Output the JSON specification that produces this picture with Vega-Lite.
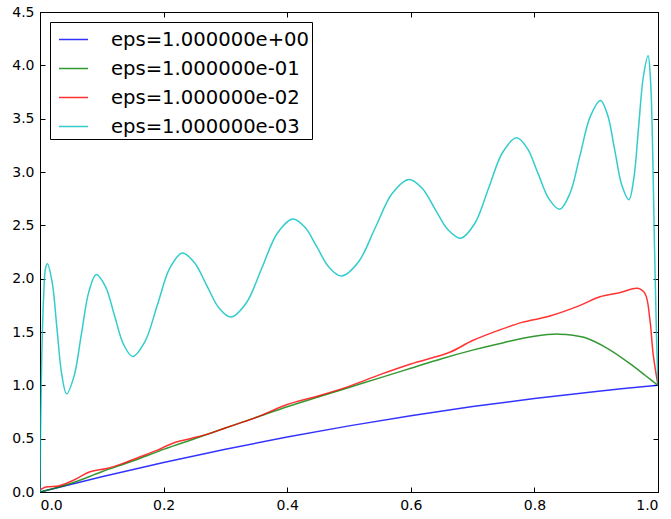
{
  "$schema": "https://vega.github.io/schema/vega-lite/v6.json",
  "width": 618,
  "height": 480,
  "autosize": {"type": "none"},
  "padding": {"left": 40, "top": 12, "right": 13, "bottom": 27},
  "background": "white",
  "datasets": {
    "curves": [
      {"x": 0, "y": 0, "s": "eps=1.000000e+00"},
      {"x": 0.1, "y": 0.143, "s": "eps=1.000000e+00"},
      {"x": 0.2, "y": 0.277, "s": "eps=1.000000e+00"},
      {"x": 0.3, "y": 0.401, "s": "eps=1.000000e+00"},
      {"x": 0.4, "y": 0.515, "s": "eps=1.000000e+00"},
      {"x": 0.5, "y": 0.62, "s": "eps=1.000000e+00"},
      {"x": 0.6, "y": 0.715, "s": "eps=1.000000e+00"},
      {"x": 0.7, "y": 0.801, "s": "eps=1.000000e+00"},
      {"x": 0.8, "y": 0.877, "s": "eps=1.000000e+00"},
      {"x": 0.9, "y": 0.943, "s": "eps=1.000000e+00"},
      {"x": 1.0, "y": 1.0, "s": "eps=1.000000e+00"},

      {"x": 0, "y": 0, "s": "eps=1.000000e-01"},
      {"x": 0.05, "y": 0.08, "s": "eps=1.000000e-01"},
      {"x": 0.1, "y": 0.19, "s": "eps=1.000000e-01"},
      {"x": 0.15, "y": 0.29, "s": "eps=1.000000e-01"},
      {"x": 0.2, "y": 0.40, "s": "eps=1.000000e-01"},
      {"x": 0.25, "y": 0.50, "s": "eps=1.000000e-01"},
      {"x": 0.3, "y": 0.60, "s": "eps=1.000000e-01"},
      {"x": 0.35, "y": 0.70, "s": "eps=1.000000e-01"},
      {"x": 0.4, "y": 0.80, "s": "eps=1.000000e-01"},
      {"x": 0.45, "y": 0.89, "s": "eps=1.000000e-01"},
      {"x": 0.5, "y": 0.98, "s": "eps=1.000000e-01"},
      {"x": 0.55, "y": 1.07, "s": "eps=1.000000e-01"},
      {"x": 0.6, "y": 1.16, "s": "eps=1.000000e-01"},
      {"x": 0.65, "y": 1.25, "s": "eps=1.000000e-01"},
      {"x": 0.7, "y": 1.33, "s": "eps=1.000000e-01"},
      {"x": 0.75, "y": 1.40, "s": "eps=1.000000e-01"},
      {"x": 0.8, "y": 1.46, "s": "eps=1.000000e-01"},
      {"x": 0.84, "y": 1.48, "s": "eps=1.000000e-01"},
      {"x": 0.88, "y": 1.45, "s": "eps=1.000000e-01"},
      {"x": 0.92, "y": 1.34, "s": "eps=1.000000e-01"},
      {"x": 0.96, "y": 1.18, "s": "eps=1.000000e-01"},
      {"x": 0.98, "y": 1.09, "s": "eps=1.000000e-01"},
      {"x": 1.0, "y": 1.0, "s": "eps=1.000000e-01"},

      {"x": 0, "y": 0.02, "s": "eps=1.000000e-02"},
      {"x": 0.008, "y": 0.045, "s": "eps=1.000000e-02"},
      {"x": 0.016, "y": 0.05, "s": "eps=1.000000e-02"},
      {"x": 0.03, "y": 0.056, "s": "eps=1.000000e-02"},
      {"x": 0.054, "y": 0.11, "s": "eps=1.000000e-02"},
      {"x": 0.081, "y": 0.19, "s": "eps=1.000000e-02"},
      {"x": 0.108, "y": 0.22, "s": "eps=1.000000e-02"},
      {"x": 0.135, "y": 0.27, "s": "eps=1.000000e-02"},
      {"x": 0.162, "y": 0.33, "s": "eps=1.000000e-02"},
      {"x": 0.189, "y": 0.39, "s": "eps=1.000000e-02"},
      {"x": 0.216, "y": 0.46, "s": "eps=1.000000e-02"},
      {"x": 0.243, "y": 0.50, "s": "eps=1.000000e-02"},
      {"x": 0.27, "y": 0.54, "s": "eps=1.000000e-02"},
      {"x": 0.3, "y": 0.60, "s": "eps=1.000000e-02"},
      {"x": 0.35, "y": 0.70, "s": "eps=1.000000e-02"},
      {"x": 0.4, "y": 0.82, "s": "eps=1.000000e-02"},
      {"x": 0.45, "y": 0.90, "s": "eps=1.000000e-02"},
      {"x": 0.5, "y": 0.99, "s": "eps=1.000000e-02"},
      {"x": 0.55, "y": 1.10, "s": "eps=1.000000e-02"},
      {"x": 0.6, "y": 1.20, "s": "eps=1.000000e-02"},
      {"x": 0.663, "y": 1.31, "s": "eps=1.000000e-02"},
      {"x": 0.7, "y": 1.42, "s": "eps=1.000000e-02"},
      {"x": 0.744, "y": 1.52, "s": "eps=1.000000e-02"},
      {"x": 0.78, "y": 1.59, "s": "eps=1.000000e-02"},
      {"x": 0.825, "y": 1.65, "s": "eps=1.000000e-02"},
      {"x": 0.874, "y": 1.75, "s": "eps=1.000000e-02"},
      {"x": 0.906, "y": 1.83, "s": "eps=1.000000e-02"},
      {"x": 0.939, "y": 1.87, "s": "eps=1.000000e-02"},
      {"x": 0.967, "y": 1.91, "s": "eps=1.000000e-02"},
      {"x": 0.979, "y": 1.86, "s": "eps=1.000000e-02"},
      {"x": 0.987, "y": 1.61, "s": "eps=1.000000e-02"},
      {"x": 0.992, "y": 1.30, "s": "eps=1.000000e-02"},
      {"x": 1.0, "y": 1.0, "s": "eps=1.000000e-02"},

      {"x": 0, "y": 0, "s": "eps=1.000000e-03"},
      {"x": 0.001, "y": 0.6, "s": "eps=1.000000e-03"},
      {"x": 0.003, "y": 1.3, "s": "eps=1.000000e-03"},
      {"x": 0.006, "y": 1.85, "s": "eps=1.000000e-03"},
      {"x": 0.009, "y": 2.1, "s": "eps=1.000000e-03"},
      {"x": 0.012, "y": 2.14, "s": "eps=1.000000e-03"},
      {"x": 0.0198, "y": 1.962, "s": "eps=1.000000e-03"},
      {"x": 0.0275, "y": 1.53, "s": "eps=1.000000e-03"},
      {"x": 0.0353, "y": 1.098, "s": "eps=1.000000e-03"},
      {"x": 0.043, "y": 0.92, "s": "eps=1.000000e-03"},
      {"x": 0.055, "y": 1.084, "s": "eps=1.000000e-03"},
      {"x": 0.067, "y": 1.48, "s": "eps=1.000000e-03"},
      {"x": 0.079, "y": 1.876, "s": "eps=1.000000e-03"},
      {"x": 0.091, "y": 2.04, "s": "eps=1.000000e-03"},
      {"x": 0.1058, "y": 1.928, "s": "eps=1.000000e-03"},
      {"x": 0.1205, "y": 1.655, "s": "eps=1.000000e-03"},
      {"x": 0.1353, "y": 1.382, "s": "eps=1.000000e-03"},
      {"x": 0.15, "y": 1.27, "s": "eps=1.000000e-03"},
      {"x": 0.17, "y": 1.412, "s": "eps=1.000000e-03"},
      {"x": 0.19, "y": 1.755, "s": "eps=1.000000e-03"},
      {"x": 0.21, "y": 2.098, "s": "eps=1.000000e-03"},
      {"x": 0.23, "y": 2.24, "s": "eps=1.000000e-03"},
      {"x": 0.2498, "y": 2.152, "s": "eps=1.000000e-03"},
      {"x": 0.2695, "y": 1.94, "s": "eps=1.000000e-03"},
      {"x": 0.2893, "y": 1.728, "s": "eps=1.000000e-03"},
      {"x": 0.309, "y": 1.64, "s": "eps=1.000000e-03"},
      {"x": 0.334, "y": 1.774, "s": "eps=1.000000e-03"},
      {"x": 0.359, "y": 2.1, "s": "eps=1.000000e-03"},
      {"x": 0.384, "y": 2.426, "s": "eps=1.000000e-03"},
      {"x": 0.409, "y": 2.56, "s": "eps=1.000000e-03"},
      {"x": 0.4288, "y": 2.482, "s": "eps=1.000000e-03"},
      {"x": 0.4485, "y": 2.2925, "s": "eps=1.000000e-03"},
      {"x": 0.4683, "y": 2.103, "s": "eps=1.000000e-03"},
      {"x": 0.488, "y": 2.025, "s": "eps=1.000000e-03"},
      {"x": 0.5153, "y": 2.157, "s": "eps=1.000000e-03"},
      {"x": 0.5425, "y": 2.4775, "s": "eps=1.000000e-03"},
      {"x": 0.5698, "y": 2.798, "s": "eps=1.000000e-03"},
      {"x": 0.597, "y": 2.93, "s": "eps=1.000000e-03"},
      {"x": 0.618, "y": 2.85, "s": "eps=1.000000e-03"},
      {"x": 0.639, "y": 2.655, "s": "eps=1.000000e-03"},
      {"x": 0.66, "y": 2.46, "s": "eps=1.000000e-03"},
      {"x": 0.681, "y": 2.38, "s": "eps=1.000000e-03"},
      {"x": 0.7035, "y": 2.517, "s": "eps=1.000000e-03"},
      {"x": 0.726, "y": 2.85, "s": "eps=1.000000e-03"},
      {"x": 0.7485, "y": 3.183, "s": "eps=1.000000e-03"},
      {"x": 0.771, "y": 3.32, "s": "eps=1.000000e-03"},
      {"x": 0.7885, "y": 3.222, "s": "eps=1.000000e-03"},
      {"x": 0.806, "y": 2.985, "s": "eps=1.000000e-03"},
      {"x": 0.8235, "y": 2.748, "s": "eps=1.000000e-03"},
      {"x": 0.841, "y": 2.65, "s": "eps=1.000000e-03"},
      {"x": 0.8575, "y": 2.799, "s": "eps=1.000000e-03"},
      {"x": 0.874, "y": 3.16, "s": "eps=1.000000e-03"},
      {"x": 0.8905, "y": 3.521, "s": "eps=1.000000e-03"},
      {"x": 0.907, "y": 3.67, "s": "eps=1.000000e-03"},
      {"x": 0.9185, "y": 3.534, "s": "eps=1.000000e-03"},
      {"x": 0.93, "y": 3.205, "s": "eps=1.000000e-03"},
      {"x": 0.9415, "y": 2.876, "s": "eps=1.000000e-03"},
      {"x": 0.953, "y": 2.74, "s": "eps=1.000000e-03"},
      {"x": 0.9608, "y": 2.937, "s": "eps=1.000000e-03"},
      {"x": 0.9685, "y": 3.415, "s": "eps=1.000000e-03"},
      {"x": 0.9763, "y": 3.893, "s": "eps=1.000000e-03"},
      {"x": 0.984, "y": 4.09, "s": "eps=1.000000e-03"},
      {"x": 0.988, "y": 3.85, "s": "eps=1.000000e-03"},
      {"x": 0.991, "y": 3.3, "s": "eps=1.000000e-03"},
      {"x": 0.994, "y": 2.4, "s": "eps=1.000000e-03"},
      {"x": 0.997, "y": 1.6, "s": "eps=1.000000e-03"},
      {"x": 1.0, "y": 1.0, "s": "eps=1.000000e-03"}
    ]
  },
  "data": {"name": "curves"},
  "layer": [
    {
      "mark": {"type": "line", "interpolate": "catmull-rom", "strokeWidth": 1.5, "opacity": 0.8, "clip": true},
      "encoding": {
        "x": {"field": "x", "type": "quantitative", "scale": {"domain": [0, 1], "nice": false},
              "axis": {"orient": "bottom", "values": [0, 0.2, 0.4, 0.6, 0.8, 1.0], "format": ".1f"}},
        "y": {"field": "y", "type": "quantitative", "scale": {"domain": [0, 4.5], "nice": false, "zero": false},
              "axis": {"orient": "left", "values": [0, 0.5, 1, 1.5, 2, 2.5, 3, 3.5, 4, 4.5], "format": ".1f"}},
        "color": {"field": "s", "type": "nominal",
                  "scale": {"domain": ["eps=1.000000e+00", "eps=1.000000e-01", "eps=1.000000e-02", "eps=1.000000e-03"],
                            "range": ["#0000ff", "#008000", "#ff0000", "#00bfbf"]},
                  "legend": {"title": null, "orient": "none", "legendX": 10, "legendY": 10,
                             "symbolType": "stroke", "symbolSize": 841, "symbolStrokeWidth": 1.5, "symbolOffset": 6,
                             "symbolOpacity": 0.8,
                             "labelFontSize": 19.6, "labelFont": "DejaVu Sans", "labelColor": "black",
                             "labelExpr": "datum.label + ' '",
                             "labelOffset": 22, "labelLimit": 400, "padding": 2, "rowPadding": 3,
                             "strokeColor": "black", "fillColor": "white", "cornerRadius": 0}}
      }
    },
    {
      "mark": {"type": "line", "opacity": 0},
      "encoding": {
        "x": {"field": "x", "type": "quantitative",
              "axis": {"orient": "top", "labels": false, "values": [0, 0.2, 0.4, 0.6, 0.8, 1.0]}},
        "y": {"field": "y", "type": "quantitative",
              "axis": {"orient": "right", "labels": false, "values": [0, 0.5, 1, 1.5, 2, 2.5, 3, 3.5, 4, 4.5]}},
        "detail": {"field": "s"}
      }
    }
  ],
  "resolve": {"axis": {"x": "independent", "y": "independent"}},
  "config": {
    "view": {"stroke": "black", "strokeWidth": 1},
    "axis": {
      "title": null, "grid": false, "domainColor": "black", "domainWidth": 1,
      "tickColor": "black", "tickSize": -5, "tickWidth": 1,
      "labelFont": "DejaVu Sans", "labelFontSize": 14, "labelColor": "black", "labelPadding": 11
    }
  }
}
